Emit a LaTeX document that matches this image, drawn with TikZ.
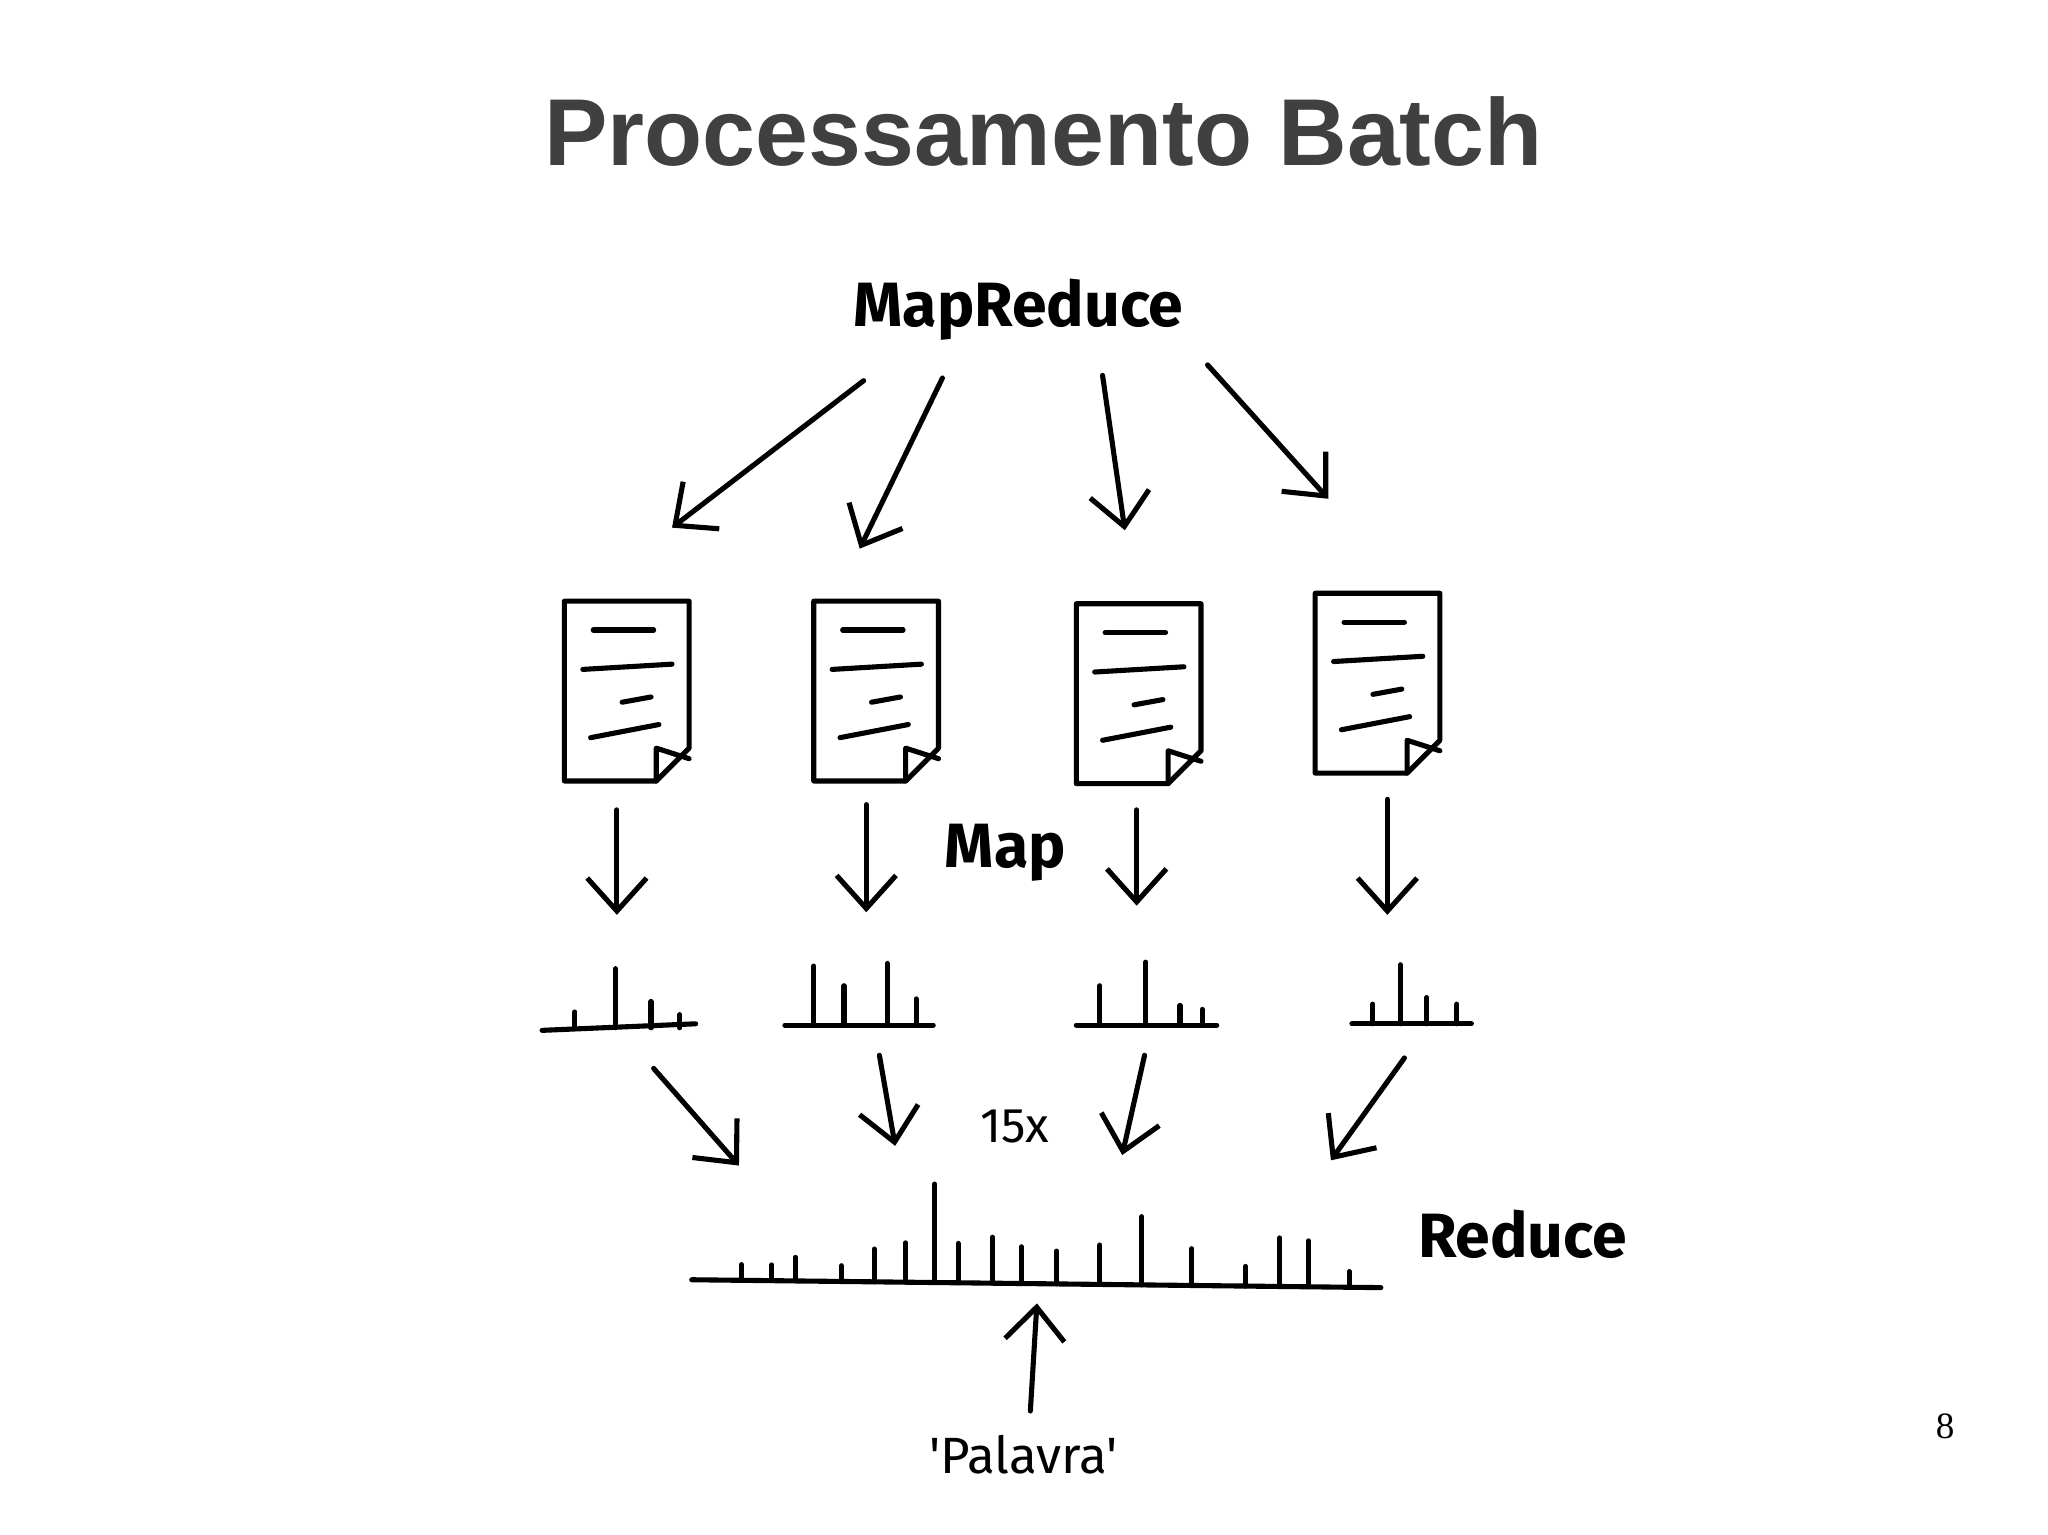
\documentclass[tikz,border=0pt]{standalone}
\usepackage{fontspec}
\setmainfont{Liberation Sans}
\newfontfamily\hand{Fira Sans}
\newfontfamily\serifnum{Liberation Serif}
\usetikzlibrary{arrows.meta}
\begin{document}
\begin{tikzpicture}[x=0.02cm,y=-0.02cm,
  ln/.style={line width=2.2pt,line cap=round,line join=round},
  arr/.style={ln,-{Straight Barb[length=5mm,width=9mm,line width=2.2pt]}},
  doc/.style={draw=none,minimum width=1.9cm,minimum height=2.74cm,inner sep=0pt,anchor=north west},
  lbl/.style={font=\hand\bfseries\fontsize{27}{30}\selectfont}]
\useasboundingbox[fill=white] (0,0) rectangle (1552,1163);
\begin{scope}[x=0.0199cm,y=-0.0199cm]
\node[font=\bfseries\fontsize{41}{46}\selectfont,text=black!75] (title) at (795,100) {Processamento Batch};
\node[lbl] (mr) at (776,236) {MapReduce};
\node[lbl] (map) at (766,650) {Map};
\node[font=\hand\fontsize{21}{24}\selectfont] (x15) at (773,858) {15x};
\node[lbl] (red) at (1160,940) {Reduce};
\node[font=\hand\fontsize{22}{26}\selectfont] (pal) at (780,1108) {'Palavra'};
\node[font=\serifnum\fontsize{16}{18}\selectfont] (pg) at (1482,1087) {8};
% documents
\foreach \n/\x/\y in {d1/430/458,d2/620/458,d3/820/460,d4/1002/452}{
  \node[doc] (\n) at (\x,\y) {};
  \draw[ln] (\x,\y) -- ++(95,0) -- ++(0,112) -- ++(-25,25) -- ++(-70,0) -- cycle;
  \draw[ln] (\x+70,\y+137) -- (\x+70,\y+112) -- (\x+95,\y+120);
  \draw[ln] (\x+22,\y+22) -- (\x+68,\y+22);
  \draw[ln] (\x+14,\y+52) -- (\x+82,\y+48);
  \draw[ln] (\x+44,\y+77) -- (\x+66,\y+73);
  \draw[ln] (\x+20,\y+104) -- (\x+72,\y+94);
}
% top arrows
\coordinate (a1) at (658,290); \coordinate (b1) at (512,402);
\coordinate (a2) at (718,288); \coordinate (b2) at (655,418);
\coordinate (a3) at (840,286); \coordinate (b3) at (857,404);
\coordinate (a4) at (920,278); \coordinate (b4) at (1012,380);
\foreach \i in {1,...,4}{\draw[arr] (a\i) -- (b\i);}
% map arrows
\coordinate (m1) at (470,617); \coordinate (n1) at (470,697);
\coordinate (m2) at (660,613); \coordinate (n2) at (660,695);
\coordinate (m3) at (866,617); \coordinate (n3) at (866,690);
\coordinate (m4) at (1057,609); \coordinate (n4) at (1057,697);
\foreach \i in {1,...,4}{\draw[arr] (m\i) -- (n\i);}
% histograms
\draw[ln] (413,785) -- (530,780);
\foreach \x/\h in {438/12,469/45,496/20,518/10}{\draw[ln] (\x,783) -- ++(0,-\h);}
\draw[ln] (598,781) -- (711,781);
\foreach \x/\h in {620/45,643/30,676/47,698/20}{\draw[ln] (\x,781) -- ++(0,-\h);}
\draw[ln] (820,781) -- (927,781);
\foreach \x/\h in {838/30,873/48,899/15,916/12}{\draw[ln] (\x,781) -- ++(0,-\h);}
\draw[ln] (1030,780) -- (1121,780);
\foreach \x/\h in {1046/15,1067/45,1087/20,1110/15}{\draw[ln] (\x,780) -- ++(0,-\h);}
% reduce arrows
\coordinate (r1) at (498,814); \coordinate (s1) at (563,888);
\coordinate (r2) at (670,804); \coordinate (s2) at (682,873);
\coordinate (r3) at (872,804); \coordinate (s3) at (855,880);
\coordinate (r4) at (1070,806); \coordinate (s4) at (1014,884);
\foreach \i in {1,...,4}{\draw[arr] (r\i) -- (s\i);}
% big histogram
\draw[ln] (527,975) -- (1052,981);
\foreach \x/\h in {565/12,588/12,606/18,641/12,666/25,690/30,712/75,730/30,756/35,778/28,805/25,838/30,870/52,908/28,949/15,975/37,997/35,1028/12}{
  \draw[ln] (\x,{975+(\x-527)*6/525}) -- ++(0,-\h);}
\coordinate (u1) at (785,1075); \coordinate (u2) at (790,993);
\draw[arr] (u1) -- (u2);
\end{scope}
\end{tikzpicture}
\end{document}
